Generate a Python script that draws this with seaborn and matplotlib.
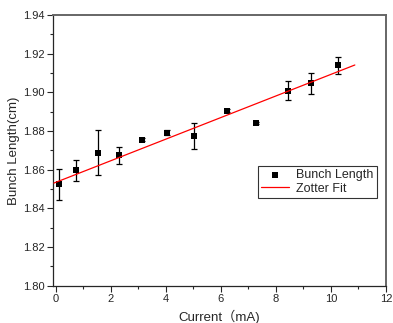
import numpy as np
import pandas as pd
import matplotlib
matplotlib.use("Agg")
import matplotlib.pyplot as plt
import seaborn as sns
from matplotlib.ticker import MultipleLocator

# measured bunch length vs beam current
current = [0.12, 0.75, 1.55, 2.29, 3.12, 4.06, 5.04, 6.24, 7.26, 8.43, 9.28, 10.26]
bunch_len = [1.8524, 1.8596, 1.8687, 1.8675, 1.8755, 1.8791, 1.8774, 1.8904, 1.8841, 1.9008, 1.9047, 1.9139]
bunch_err = [0.0082, 0.0055, 0.0116, 0.0043, 0.0008, 0.0012, 0.0069, 0.0008, 0.0004, 0.0048, 0.0055, 0.0042]

# Zotter fit end points
fit_x = [-0.07, 10.87]
fit_y = [1.8531, 1.9141]

sns.set_style("ticks")
plt.rcParams['font.family'] = ['Liberation Sans', 'Noto Sans CJK SC', 'DejaVu Sans']

df = pd.DataFrame({"current": current, "length": bunch_len, "err": bunch_err})

fig = plt.figure(figsize=(3.93, 3.23), dpi=100)
ax = fig.add_axes([0.135, 0.115, 0.847, 0.839])

ax.errorbar(df["current"], df["length"], yerr=df["err"], fmt="none",
            ecolor="black", elinewidth=0.9, capsize=2.5, capthick=0.9, zorder=2)
sns.scatterplot(data=df, x="current", y="length", marker="s", color="black",
                s=22, edgecolor="black", linewidth=0, ax=ax, zorder=3,
                label="Bunch Length")
sns.lineplot(x=fit_x, y=fit_y, color="red", linewidth=0.9, ax=ax, zorder=4,
             label="Zotter Fit")

ax.set_xlim(-0.1, 12)
ax.set_ylim(1.80, 1.94)
ax.xaxis.set_major_locator(MultipleLocator(2))
ax.xaxis.set_minor_locator(MultipleLocator(1))
ax.yaxis.set_major_locator(MultipleLocator(0.02))
ax.yaxis.set_minor_locator(MultipleLocator(0.01))
ax.tick_params(which="major", direction="out", length=4, width=0.8, labelsize=8, pad=2)
ax.tick_params(which="minor", direction="out", length=2, width=0.8)
ax.yaxis.set_major_formatter(matplotlib.ticker.FormatStrFormatter("%.2f"))

for side in ["top", "right"]:
    ax.spines[side].set_visible(True)
    ax.spines[side].set_color("#666666")
    ax.spines[side].set_linewidth(1.4)
for side in ["left", "bottom"]:
    ax.spines[side].set_linewidth(0.9)

ax.set_xlabel("Current（mA)", fontsize=9.5, labelpad=4)
ax.set_ylabel("Bunch Length(cm)", fontsize=9.5, labelpad=2)

leg = ax.legend(loc="upper right", bbox_to_anchor=(0.973, 0.443), fontsize=9,
                frameon=True, fancybox=False, edgecolor="black",
                handlelength=2.2, borderpad=0.25, labelspacing=0.15,
                handletextpad=0.6, borderaxespad=0)
leg.get_frame().set_linewidth(0.8)

fig.savefig("out.png", dpi=100)
